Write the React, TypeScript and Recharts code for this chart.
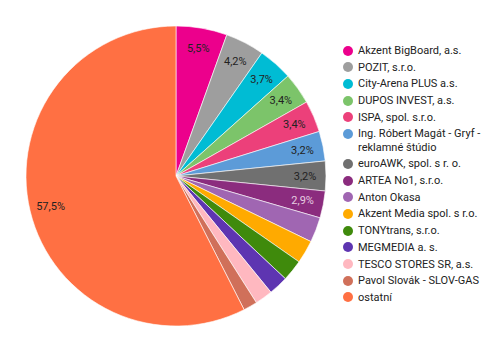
import { PieChart, Pie, Cell, Legend } from 'recharts';

const names = [
  'Akzent BigBoard, a.s.',
  'POZIT, s.r.o.',
  'City-Arena PLUS a.s.',
  'DUPOS INVEST, a.s.',
  'ISPA, spol. s.r.o.',
  'Ing. Róbert Magát - Gryf - reklamné štúdio',
  'euroAWK, spol. s r. o.',
  'ARTEA No1, s.r.o.',
  'Anton Okasa',
  'Akzent Media spol. s r.o.',
  'TONYtrans, s.r.o.',
  'MEGMEDIA a. s.',
  'TESCO STORES SR, a.s.',
  'Pavol Slovák - SLOV-GAS',
  'ostatní',
];

const shares = [5.5, 4.2, 3.7, 3.4, 3.4, 3.2, 3.2, 2.9, 2.7, 2.5, 2.3, 2.1, 1.9, 1.5, 57.5];

const colors = [
  '#ec008c', '#9e9e9e', '#00bcd4', '#7cc46a', '#ec407a', '#5c9bd8', '#707070', '#8b2c7e',
  '#a066b2', '#ffaa00', '#3f8a0c', '#5e35b1', '#ffb8c0', '#d0705a', '#ff7043',
];

// labels on dark slices are drawn light
const lightLabel = [false, false, false, false, false, false, false, true, false, false, false, false, false, false, false];

const data = names.map((name, i) => ({ name, value: shares[i], color: colors[i] }));

const RADIAN = Math.PI / 180;

const renderLabel = (props: any) => {
  const { cx, cy, midAngle, outerRadius, index, value } = props;
  if (value < 2.8) return null;
  const r = outerRadius * 0.86;
  const x = cx + r * Math.cos(-midAngle * RADIAN);
  const y = cy + r * Math.sin(-midAngle * RADIAN);
  return (
    <text
      x={x}
      y={y}
      fill={lightLabel[index] ? '#e6cde0' : '#222'}
      textAnchor="middle"
      dominantBaseline="central"
      fontSize={11}
      fontFamily="Roboto"
    >
      {value.toFixed(1).replace('.', ',')}%
    </text>
  );
};

const renderLegend = () => (
  <div style={{ fontFamily: 'Roboto', fontSize: 11, color: '#222' }}>
    {data.map((d, i) => (
      <div key={i} style={{ display: 'flex', alignItems: 'flex-start', marginBottom: 3.4, width: 150 }}>
        <span
          style={{
            width: 10,
            height: 10,
            borderRadius: 5,
            background: d.color,
            flex: 'none',
            marginTop: 1.5,
            marginRight: 5,
          }}
        />
        <span style={{ lineHeight: '13.3px' }}>{d.name}</span>
      </div>
    ))}
  </div>
);

export default function App() {
  return (
    <div style={{ width: 500, height: 351, margin: -8, position: 'relative', background: '#fff' }}>
      <PieChart width={500} height={351} margin={{ top: 0, right: 0, bottom: 0, left: 0 }}>
        <Pie
          data={data}
          dataKey="value"
          cx={176}
          cy={176}
          outerRadius={150}
          startAngle={90}
          endAngle={-270}
          stroke="#fff"
          strokeWidth={0.6}
          labelLine={false}
          label={renderLabel}
          isAnimationActive={false}
        >
          {data.map((d, i) => (
            <Cell key={`cell-${i}`} fill={d.color} />
          ))}
        </Pie>
        <Legend
          content={renderLegend}
          layout="vertical"
          wrapperStyle={{ left: 343, top: 44, width: 155 }}
        />
      </PieChart>
    </div>
  );
}
